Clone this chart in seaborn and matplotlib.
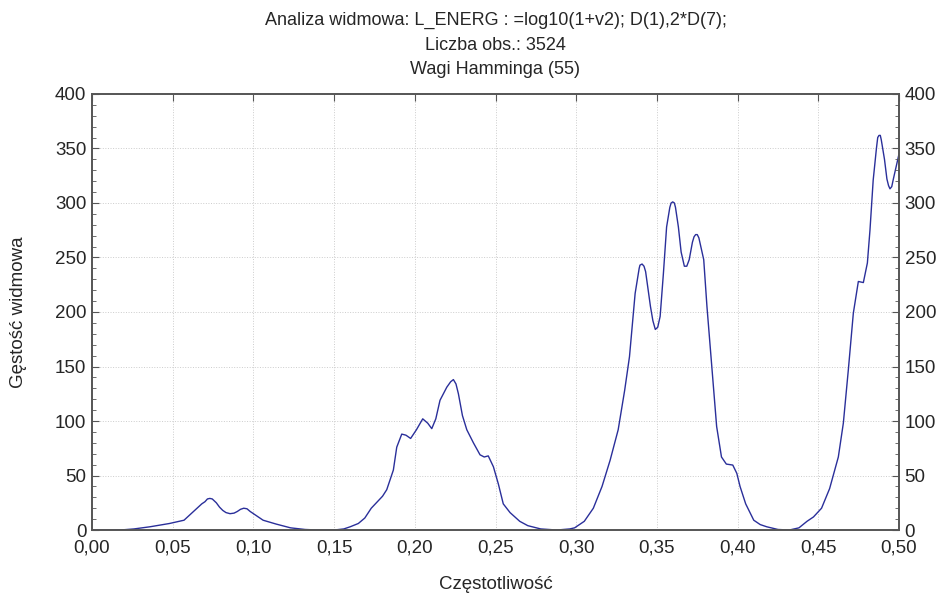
import pandas as pd
import seaborn as sns
import matplotlib.pyplot as plt
from matplotlib.ticker import MultipleLocator

# Values
freq = [0.000, 0.010, 0.020, 0.026, 0.036, 0.048, 0.057, 0.065, 0.068, 0.070,
        0.0715, 0.073, 0.0745, 0.077, 0.079, 0.081, 0.083, 0.0855, 0.088, 0.090,
        0.092, 0.094, 0.096, 0.098, 0.102, 0.106, 0.114, 0.123, 0.132, 0.140,
        0.150, 0.156, 0.160, 0.165, 0.169, 0.173, 0.1774, 0.180, 0.1826, 0.1867,
        0.1888, 0.1919, 0.1945, 0.1974, 0.201, 0.2049, 0.208, 0.2105, 0.213, 0.2156,
        0.2198, 0.2222, 0.2239, 0.2255, 0.227, 0.2295, 0.2322, 0.2363, 0.2404, 0.243,
        0.2455, 0.2487, 0.2518, 0.2548, 0.259, 0.265, 0.270, 0.278, 0.288, 0.296,
        0.299, 0.305, 0.3106, 0.316, 0.321, 0.326, 0.330, 0.333, 0.3365, 0.339,
        0.3395, 0.3408, 0.342, 0.343, 0.346, 0.3475, 0.349, 0.3505, 0.352, 0.354,
        0.356, 0.358, 0.3588, 0.3598, 0.3608, 0.3615, 0.3633, 0.365, 0.367, 0.3685,
        0.370, 0.372, 0.373, 0.374, 0.375, 0.376, 0.379, 0.381, 0.383, 0.385,
        0.387, 0.390, 0.393, 0.397, 0.3995, 0.4015, 0.405, 0.410, 0.414, 0.418,
        0.425, 0.432, 0.438, 0.443, 0.447, 0.452, 0.457, 0.4624, 0.4655, 0.4686,
        0.4717, 0.4748, 0.4779, 0.4804, 0.482, 0.484, 0.486, 0.4868, 0.4876, 0.4884,
        0.489, 0.491, 0.4925, 0.4935, 0.4944, 0.4955, 0.4965, 0.4985, 0.500]
density = [0, 0, 0.3, 1, 3, 6, 9, 20, 24, 26,
           28.5, 29, 28.5, 25, 21, 18, 16, 15, 15.5, 17,
           19, 20, 19.5, 17, 13, 9, 5.5, 2, 0.5, 0,
           0, 1, 3, 6, 11, 20, 27, 31, 37, 55,
           76, 88, 87, 84, 92, 102, 98, 93, 102, 119,
           131, 136, 138, 134, 125, 105, 92, 80, 69, 67,
           68, 58, 42, 24, 16, 8, 4, 1, 0, 1,
           2, 8, 20, 40, 64, 92, 128, 159, 217, 240,
           243, 244, 242, 237, 205, 192, 184, 186, 196, 235,
           278, 296, 300, 301, 300, 296, 278, 255, 242, 242,
           248, 264, 269, 271, 271, 268, 248, 205, 168, 130,
           95, 67, 60.5, 59.6, 52, 40, 24, 9, 5, 3,
           0.5, 0, 2, 8, 12, 20, 38, 67, 98, 147,
           199, 228, 227, 245, 275, 321, 350, 360, 362, 362,
           358, 340, 322, 316, 313, 315, 322, 335, 345]

x_ticks = [0.00, 0.05, 0.10, 0.15, 0.20, 0.25, 0.30, 0.35, 0.40, 0.45, 0.50]
y_ticks = [0, 50, 100, 150, 200, 250, 300, 350, 400]

title_lines = ["Analiza widmowa: L_ENERG : =log10(1+v2); D(1),2*D(7);",
               "Liczba obs.: 3524",
               "Wagi Hamminga (55)"]

df = pd.DataFrame({"freq": freq, "density": density})

sns.set_style("white")
plt.rcParams['font.family'] = ['Liberation Sans', 'DejaVu Sans']

fig = plt.figure(figsize=(9.4, 5.94), dpi=100)
ax = fig.add_axes([0.0979, 0.1077, 0.8585, 0.7341])

sns.lineplot(data=df, x="freq", y="density", ax=ax, color='#2a2f9a', linewidth=1.0,
             solid_joinstyle='round')

ax.set_xlim(0, 0.5)
ax.set_ylim(0, 400)
ax.set_xticks(x_ticks)
ax.set_xticklabels([f"{t:.2f}".replace('.', ',') for t in x_ticks])
ax.set_yticks(y_ticks)
ax.yaxis.set_minor_locator(MultipleLocator(10))
ax.grid(True, which='major', linestyle=':', color='#cccccc', linewidth=0.7)

for sp in ax.spines.values():
    sp.set_color('#555555')
    sp.set_linewidth(1.2)

ax.tick_params(axis='x', which='major', direction='in', length=5, top=True,
               labelsize=13.5, pad=7, color='#555555')
ax.tick_params(axis='y', which='major', direction='in', length=5, labelsize=13.5,
               pad=4, color='#555555')
ax.tick_params(axis='y', which='minor', direction='in', length=3, color='#555555')

ax2 = ax.twinx()
ax2.set_ylim(0, 400)
ax2.set_yticks(y_ticks)
ax2.yaxis.set_minor_locator(MultipleLocator(10))
ax2.tick_params(axis='y', which='major', direction='in', length=5, labelsize=13.5,
                pad=4, color='#555555')
ax2.tick_params(axis='y', which='minor', direction='in', length=3, color='#555555')
for sp in ax2.spines.values():
    sp.set_color('#555555')
    sp.set_linewidth(1.2)

ax.set_xlabel("Częstotliwość", fontsize=13.5, labelpad=14)
ax.set_ylabel("Gęstość widmowa", fontsize=13.5, labelpad=20)

cx = (92 + 899) / 2 / 940
for i, line in enumerate(title_lines):
    fig.text(cx, 1 - (20 + 25 * i) / 594, line, ha='center', va='center', fontsize=13)

fig.savefig("out.png", dpi=100)
